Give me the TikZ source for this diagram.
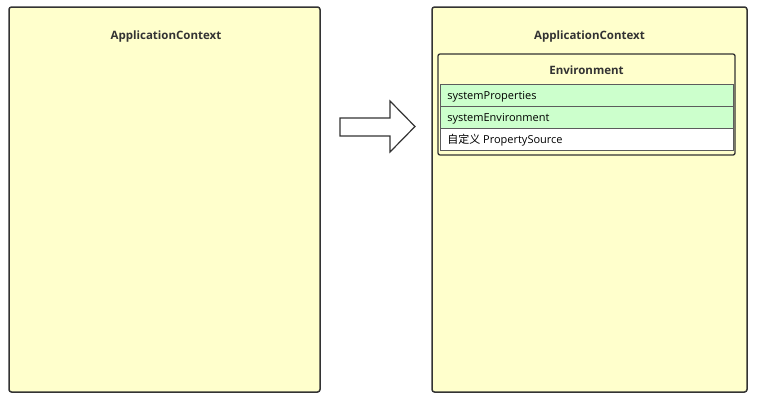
\documentclass[tikz,border=0pt]{standalone}
\usepackage{fontspec}
\setmainfont{Open Sans}
\newfontfamily\cjk{Noto Sans CJK SC}
\usepackage{tikz}
\usetikzlibrary{positioning}
\definecolor{ctxyellow}{HTML}{FFFFCC}
\definecolor{rowgreen}{HTML}{CCFFCC}
\definecolor{edge}{HTML}{333333}

\begin{document}
\begin{tikzpicture}[x=1pt,y=-1pt,font=\fontsize{11}{13}\selectfont,
	ctx/.style={draw=edge,fill=ctxyellow,line width=1.5pt,rounded corners=2.5pt},
	env/.style={draw=edge,fill=ctxyellow,line width=1.3pt,rounded corners=2pt},
	row/.style={draw=edge!80,line width=0.6pt,anchor=north west,minimum width=293pt,minimum height=22pt,inner xsep=7pt,text depth=0pt,align=left},
	title/.style={font=\fontsize{11.5}{13}\selectfont\bfseries,text=edge}]
    \useasboundingbox (0,0) rectangle (757,402);
    % left context
    \draw[ctx] (9,7) rectangle (320,392);
    \node[title] (ctxl) at (166,36.5) {ApplicationContext};
    % arrow
    \draw[draw=edge,fill=white,line width=1.2pt] (340,118) -- (390,118) -- (390,101) -- (415,126.5) -- (390,152) -- (390,136) -- (340,136) -- cycle;
    % right context
    \draw[ctx] (432,7) rectangle (747,392);
    \node[title] (ctxr) at (589.5,36.5) {ApplicationContext};
    \draw[env] (438,54) rectangle (735,155);
    \node[title] (env) at (586.5,70) {Environment};
    \node[row,fill=rowgreen] (sysprop) at (440,84) {\makebox[279pt][l]{systemProperties}};
    \node[row,fill=rowgreen] (sysenv) at (440,106) {\makebox[279pt][l]{systemEnvironment}};
    \node[row,fill=white] (custom) at (440,128) {\makebox[279pt][l]{{\cjk 自定义} PropertySource}};
  \end{tikzpicture}
\end{document}
